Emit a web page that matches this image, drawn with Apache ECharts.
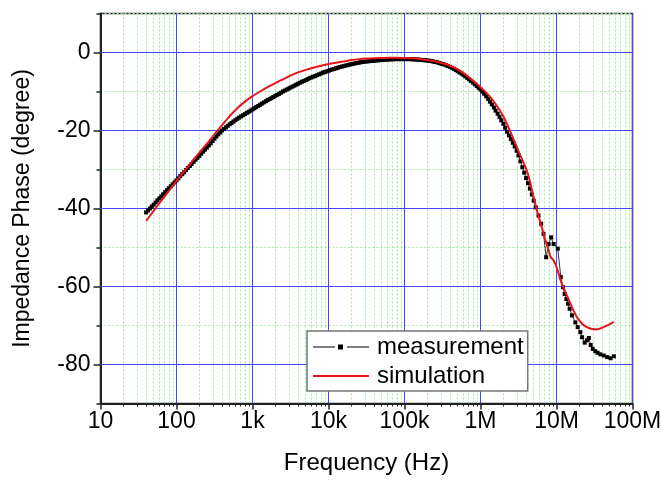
<!DOCTYPE html>
<html><head><meta charset="utf-8">
<script src="https://cdn.jsdelivr.net/npm/echarts@6/dist/echarts.min.js"></script>
<style>html,body{margin:0;padding:0;background:#fff}#c{width:661px;height:480px}</style>
</head><body><div id="c"></div>
<script>
// ---- data ----
const measFreq = [
  39.8, 42.2, 44.7, 47.3, 50.1, 53.1, 56.2, 59.6, 63.1, 66.8, 70.8, 75.0, 79.4, 84.1, 89.1, 94.4,
  1e2, 1.06e2, 1.12e2, 1.19e2, 1.26e2, 1.33e2, 1.41e2, 1.5e2, 1.58e2, 1.68e2, 1.78e2, 1.88e2, 2e2, 2.11e2, 2.24e2, 2.37e2, 2.51e2, 2.66e2, 2.82e2, 2.99e2,
  3.16e2, 3.35e2, 3.55e2, 3.76e2, 3.98e2, 4.22e2, 4.47e2, 4.73e2, 5.01e2, 5.31e2, 5.62e2, 5.96e2, 6.31e2, 6.68e2, 7.08e2, 7.5e2, 7.94e2, 8.41e2, 8.91e2, 9.44e2,
  1e3, 1.06e3, 1.12e3, 1.19e3, 1.26e3, 1.33e3, 1.41e3, 1.5e3, 1.58e3, 1.68e3, 1.78e3, 1.88e3, 2e3, 2.11e3, 2.24e3, 2.37e3, 2.51e3, 2.66e3, 2.82e3, 2.99e3,
  3.16e3, 3.35e3, 3.55e3, 3.76e3, 3.98e3, 4.22e3, 4.47e3, 4.73e3, 5.01e3, 5.31e3, 5.62e3, 5.96e3, 6.31e3, 6.68e3, 7.08e3, 7.5e3, 7.94e3, 8.41e3, 8.91e3, 9.44e3,
  1e4, 1.06e4, 1.12e4, 1.19e4, 1.26e4, 1.33e4, 1.41e4, 1.5e4, 1.58e4, 1.68e4, 1.78e4, 1.88e4, 2e4, 2.11e4, 2.24e4, 2.37e4, 2.51e4, 2.66e4, 2.82e4, 2.99e4,
  3.16e4, 3.35e4, 3.55e4, 3.76e4, 3.98e4, 4.22e4, 4.47e4, 4.73e4, 5.01e4, 5.31e4, 5.62e4, 5.96e4, 6.31e4, 6.68e4, 7.08e4, 7.5e4, 7.94e4, 8.41e4, 8.91e4, 9.44e4,
  1e5, 1.06e5, 1.12e5, 1.19e5, 1.26e5, 1.33e5, 1.41e5, 1.5e5, 1.58e5, 1.68e5, 1.78e5, 1.88e5, 2e5, 2.11e5, 2.24e5, 2.37e5, 2.51e5, 2.66e5, 2.82e5, 2.99e5,
  3.16e5, 3.35e5, 3.55e5, 3.76e5, 3.98e5, 4.22e5, 4.47e5, 4.73e5, 5.01e5, 5.31e5, 5.62e5, 5.96e5, 6.31e5, 6.68e5, 7.08e5, 7.5e5, 7.94e5, 8.41e5, 8.91e5, 9.44e5,
  1e6, 1.06e6, 1.12e6, 1.19e6, 1.26e6, 1.33e6, 1.41e6, 1.5e6, 1.58e6, 1.68e6, 1.78e6, 1.88e6, 2e6, 2.11e6, 2.24e6, 2.37e6, 2.51e6, 2.66e6, 2.82e6, 2.99e6,
  3.16e6, 3.35e6, 3.55e6, 3.76e6, 3.98e6, 4.22e6, 4.47e6, 4.73e6, 5.01e6,
  5.33e6, 5.8e6, 6.28e6, 6.75e6, 7.31e6, 7.87e6, 8.5e6, 9.16e6, 1.04e7, 1.14e7, 1.22e7, 1.28e7, 1.35e7, 1.42e7, 1.49e7, 1.6e7,
  1.77e7, 1.9e7, 2.06e7, 2.17e7, 2.35e7, 2.51e7, 2.66e7, 2.82e7, 3.0e7, 3.24e7, 3.47e7, 3.78e7, 4.19e7, 4.64e7, 5.14e7, 5.69e7
];
const measPhase = [
  -41.0, -40.5, -40.0, -39.5, -39.0, -38.45, -37.9, -37.4, -36.9, -36.35, -35.8, -35.3, -34.8, -34.3, -33.8, -33.3,
  -32.8, -32.25, -31.7, -31.2, -30.7, -30.15, -29.6, -29.1, -28.6, -28.05, -27.5, -27.0, -26.5, -25.95, -25.4, -24.9, -24.4, -23.85, -23.3, -22.7,
  -22.1, -21.55, -21.0, -20.5, -20.0, -19.6, -19.2, -18.8, -18.4, -18.05, -17.7, -17.35, -17.0, -16.7, -16.4, -16.1, -15.8, -15.5, -15.2, -14.9,
  -14.6, -14.3, -14.0, -13.7, -13.4, -13.1, -12.8, -12.5, -12.2, -11.95, -11.7, -11.4, -11.1, -10.85, -10.6, -10.3, -10.0, -9.75, -9.5, -9.25,
  -9.0, -8.75, -8.5, -8.25, -8.0, -7.75, -7.5, -7.3, -7.1, -6.85, -6.6, -6.4, -6.2, -6.0, -5.8, -5.6, -5.4, -5.2, -5.0, -4.85,
  -4.7, -4.5, -4.35, -4.2, -4.05, -3.9, -3.75, -3.6, -3.5, -3.35, -3.25, -3.1, -3.0, -2.9, -2.8, -2.7, -2.6, -2.5, -2.45, -2.35,
  -2.3, -2.25, -2.2, -2.15, -2.1, -2.05, -2.0, -1.95, -1.9, -1.9, -1.85, -1.8, -1.8, -1.75, -1.75, -1.7, -1.7, -1.7, -1.7, -1.7,
  -1.7, -1.7, -1.7, -1.7, -1.75, -1.75, -1.8, -1.8, -1.85, -1.9, -1.95, -2.0, -2.05, -2.1, -2.2, -2.3, -2.4, -2.5, -2.65, -2.8,
  -2.95, -3.1, -3.3, -3.5, -3.7, -3.95, -4.2, -4.5, -4.8, -5.1, -5.4, -5.75, -6.1, -6.5, -6.9, -7.3, -7.7, -8.15, -8.6, -9.05,
  -9.5, -10.05, -10.6, -11.25, -11.9, -12.6, -13.3, -14.1, -14.9, -15.7, -16.5, -17.4, -18.3, -19.3, -20.3, -21.25, -22.2, -23.15, -24.1, -25.2,
  -26.4, -27.9, -29.4, -30.8, -32.2, -33.5, -34.9, -36.4, -38.0,
  -39.7, -41.8, -43.9, -46.5, -52.5, -49.1, -47.4, -49.1, -50.3, -57.6, -60.2, -61.9, -63.2, -64.4, -65.7, -67.4,
  -69.2, -70.4, -71.7, -73.0, -74.4, -73.8, -73.2, -75.0, -76.0, -76.6, -77.0, -77.4, -77.7, -78.1, -78.4, -77.9
];
const simFreq = [
  39.8, 50.1, 63.1, 79.4, 100, 126, 158, 200, 251, 316, 398, 501, 631, 794,
  1000, 1260, 1580, 2000, 2510, 3160, 3980, 5010, 6310, 7940,
  1e4, 1.26e4, 1.58e4, 2e4, 2.51e4, 3.16e4, 3.98e4, 5.01e4, 6.31e4, 7.94e4,
  1e5, 1.26e5, 1.58e5, 2e5, 2.51e5, 3.16e5, 3.98e5, 5.01e5, 6.31e5, 7.94e5,
  1e6, 1.26e6, 1.58e6, 2e6, 2.51e6, 3.16e6, 3.98e6, 4.47e6, 5.01e6, 5.62e6, 6.31e6, 7.08e6, 7.94e6, 8.32e6, 9.12e6,
  1e7, 1.07e7, 1.17e7, 1.38e7, 1.58e7, 1.86e7, 2.19e7, 2.51e7, 2.95e7, 3.39e7, 3.98e7, 4.9e7, 5.69e7
];
const simPhase = [
  -43.2, -40.6, -38.0, -35.5, -32.9, -30.5, -28.1, -25.7, -23.4, -21.0, -18.6, -16.3, -14.3, -12.6,
  -11.2, -10.0, -8.9, -7.85, -6.9, -5.95, -5.1, -4.45, -3.9, -3.4,
  -2.95, -2.6, -2.3, -1.95, -1.7, -1.55, -1.45, -1.4, -1.35, -1.35,
  -1.4, -1.5, -1.65, -1.9, -2.25, -2.75, -3.4, -4.3, -5.6, -7.2,
  -8.9, -10.8, -13.2, -16.4, -20.6, -25.3, -29.8, -33.0, -37.2, -41.0, -44.4, -47.8, -51.0, -52.3, -53.3,
  -55.0, -56.8, -59.2, -62.4, -65.1, -67.9, -69.6, -70.4, -70.9, -71.0, -70.6, -69.8, -69.1
];
const seriesNames = ['measurement', 'simulation'];
const xTickLabels = ['10', '100', '1k', '10k', '100k', '1M', '10M', '100M'];
const yLabelValues = [-80, -60, -40, -20, 0];

// ---- chart ----
const FONT = '"Liberation Sans", Arial, Helvetica, sans-serif';
const BLUE = '#4646ff';
const GREEN = '#a2e8a2';
const AXIS = '#222';
const chart = echarts.init(document.getElementById('c'), null, {renderer: 'canvas'});

chart.setOption({
  animation: false,
  backgroundColor: '#fff',
  // plot box sized so every decade / every 10 degrees falls on a half pixel (crisp 1px grid lines)
  grid: {left: 100.5, right: 28.5, top: 13.5, bottom: 76.5, show: true, borderColor: AXIS, borderWidth: 1.5,
         backgroundColor: 'transparent', containLabel: false, outerBoundsMode: 'none'},
  legend: {
    orient: 'vertical', left: 307, top: 331,
    data: [
      {name: seriesNames[0], icon: 'path://M0,2H22V3H0Z M25,0H30V5H25Z M34,2H56V3H34Z'},
      {name: seriesNames[1], icon: 'path://M0,0H56V2H0Z'}
    ],
    itemWidth: 56, itemHeight: 5, itemGap: 5,
    selectedMode: false,
    backgroundColor: '#fff', borderColor: '#777', borderWidth: 1.5, borderRadius: 0,
    padding: [4, 4, 3, 6],
    itemStyle: {borderWidth: 0},
    textStyle: {fontSize: 24, fontFamily: FONT, color: '#000', padding: [0, 0, 0, 3]}
  },
  xAxis: {
    type: 'log', logBase: 10, min: 10, max: 1e8,
    name: 'Frequency (Hz)', nameLocation: 'middle', nameGap: 48,
    nameTextStyle: {fontSize: 24, fontFamily: FONT, color: '#000'},
    axisLine: {show: true, onZero: false, lineStyle: {color: AXIS, width: 2}},
    axisTick: {show: true, length: 6, lineStyle: {color: AXIS, width: 1.5}},
    minorTick: {show: true, splitNumber: 9, length: 3, lineStyle: {color: AXIS, width: 1}},
    axisLabel: {fontSize: 23, fontFamily: FONT, color: '#000', margin: 7,
      formatter: v => xTickLabels[Math.round(Math.log10(v)) - 1]},
    splitLine: {show: true, lineStyle: {color: BLUE, width: 1, type: 'solid'}},
    minorSplitLine: {show: true, lineStyle: {color: GREEN, width: 1, type: [2, 2]}}
  },
  yAxis: [{
    type: 'value', min: -90, max: 10, interval: 10,
    name: 'Impedance Phase (degree)', nameLocation: 'middle', nameGap: 66,
    nameTextStyle: {fontSize: 23, fontFamily: FONT, color: '#000'},
    axisLine: {show: true, onZero: false, lineStyle: {color: AXIS, width: 2}},
    axisTick: {show: true, length: 4, lineStyle: {color: AXIS, width: 1.5}},
    axisLabel: {fontSize: 23, fontFamily: FONT, color: '#000', margin: 10,
      formatter: v => (yLabelValues.indexOf(v) >= 0 ? String(v) : '')},
    splitLine: {show: true, lineStyle: {color: GREEN, width: 1, type: [2, 2]}}
  }, {
    type: 'value', min: -90, max: 10, interval: 10, position: 'left',
    axisLine: {show: false}, axisLabel: {show: false}, splitLine: {show: false},
    axisTick: {show: true, length: 7, customValues: yLabelValues, lineStyle: {color: AXIS, width: 1.5}}
  }],
  series: [{
    name: '_majorGrid', type: 'line', data: [], z: 1, silent: true,
    markLine: {
      z: 1, silent: true, symbol: ['none', 'none'], label: {show: false}, animation: false,
      emphasis: {disabled: true},
      lineStyle: {color: BLUE, width: 1, type: 'solid', opacity: 1},
      data: yLabelValues.map(v => ({yAxis: v}))
    }
  }, {
    name: seriesNames[0], type: 'line', z: 3,
    data: measFreq.map((f, i) => [f, measPhase[i]]),
    symbol: 'rect', symbolSize: 4, showSymbol: true, showAllSymbol: true,
    itemStyle: {color: '#000'}, lineStyle: {color: '#000', width: 0.8}
  }, {
    name: seriesNames[1], type: 'line', z: 4,
    data: simFreq.map((f, i) => [f, simPhase[i]]),
    symbol: 'none', smooth: 0.25,
    itemStyle: {color: '#e8141b'}, lineStyle: {color: '#e8141b', width: 2}
  }]
});
</script>
</body></html>
